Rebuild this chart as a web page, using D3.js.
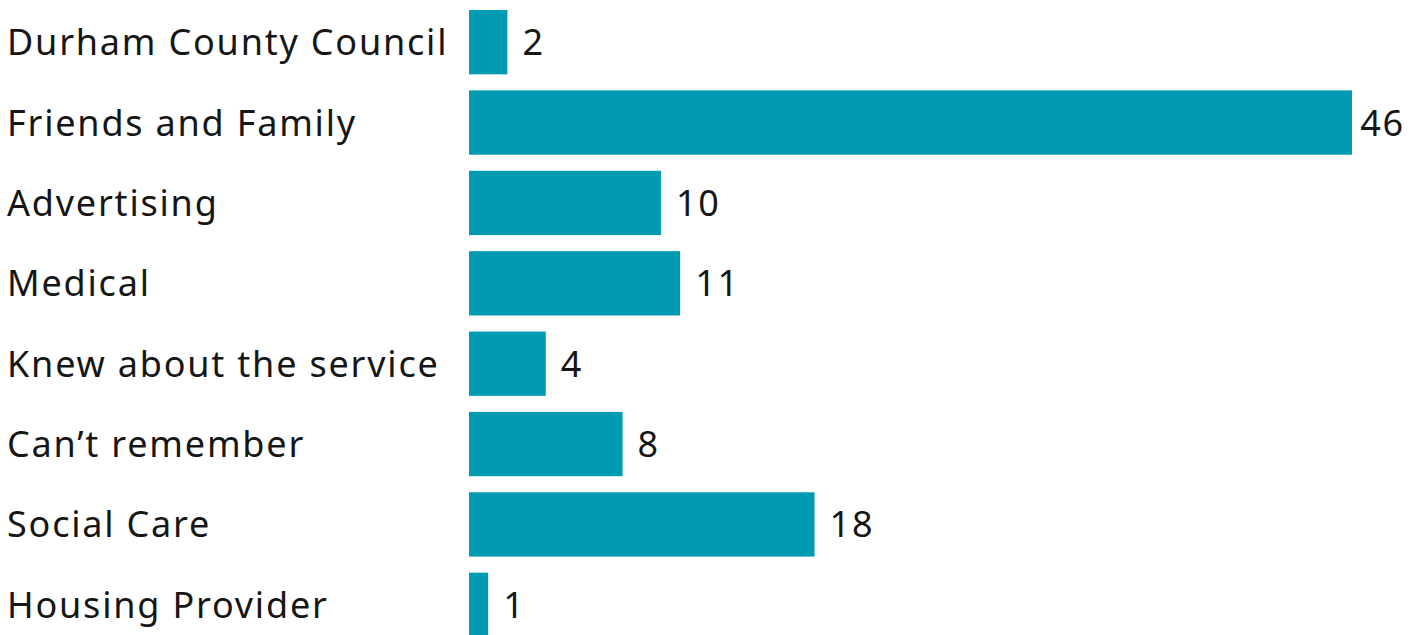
<!DOCTYPE html>
<html>
<head>
<meta charset="utf-8">
<script src="https://cdn.jsdelivr.net/npm/d3@7"></script>
<style>
  html, body { margin: 0; padding: 0; background: #fff; }
  svg { display: block; }
  text { font-family: "Noto Sans", "Lato", sans-serif; font-weight: 400; fill: #161616; letter-spacing: 1.8px; }
</style>
</head>
<body>
<svg id="chart" width="1422" height="635"></svg>
<script>
// How people heard about the service (counts)
const categories = [
  "Durham County Council",
  "Friends and Family",
  "Advertising",
  "Medical",
  "Knew about the service",
  "Can\u2019t remember",
  "Social Care",
  "Housing Provider"
];
const values = [2, 46, 10, 11, 4, 8, 18, 1];

const width = 1422, height = 635;
const barLeft = 469, barRightMax = 1352;
const fontSize = 36;
const labelGap = 15;
const labelMaxRight = 1405;

const svg = d3.select("#chart");

const x = d3.scaleLinear()
  .domain([0, d3.max(values)])
  .range([barLeft, barRightMax]);

const y = d3.scaleBand()
  .domain(categories)
  .range([2, 645])
  .paddingInner(0.2)
  .paddingOuter(0.1);

const rows = categories.map((c, i) => ({ cat: c, val: values[i] }));

// bars
svg.append("g")
  .selectAll("rect")
  .data(rows)
  .join("rect")
  .attr("x", x(0))
  .attr("y", d => y(d.cat))
  .attr("width", d => x(d.val) - x(0))
  .attr("height", y.bandwidth())
  .attr("fill", "#009bb3");

// category labels
svg.append("g")
  .selectAll("text")
  .data(rows)
  .join("text")
  .attr("x", 7)
  .attr("y", d => y(d.cat) + y.bandwidth() / 2)
  .attr("dy", "0.36em")
  .style("font-size", fontSize + "px")
  .text(d => d.cat);

// value labels, kept inside the right edge
svg.append("g")
  .selectAll("text")
  .data(rows)
  .join("text")
  .attr("y", d => y(d.cat) + y.bandwidth() / 2)
  .attr("dy", "0.36em")
  .style("font-size", fontSize + "px")
  .text(d => d.val)
  .attr("x", function (d) {
    const w = this.getComputedTextLength();
    return Math.min(x(d.val) + labelGap, labelMaxRight - w);
  });
</script>
</body>
</html>
